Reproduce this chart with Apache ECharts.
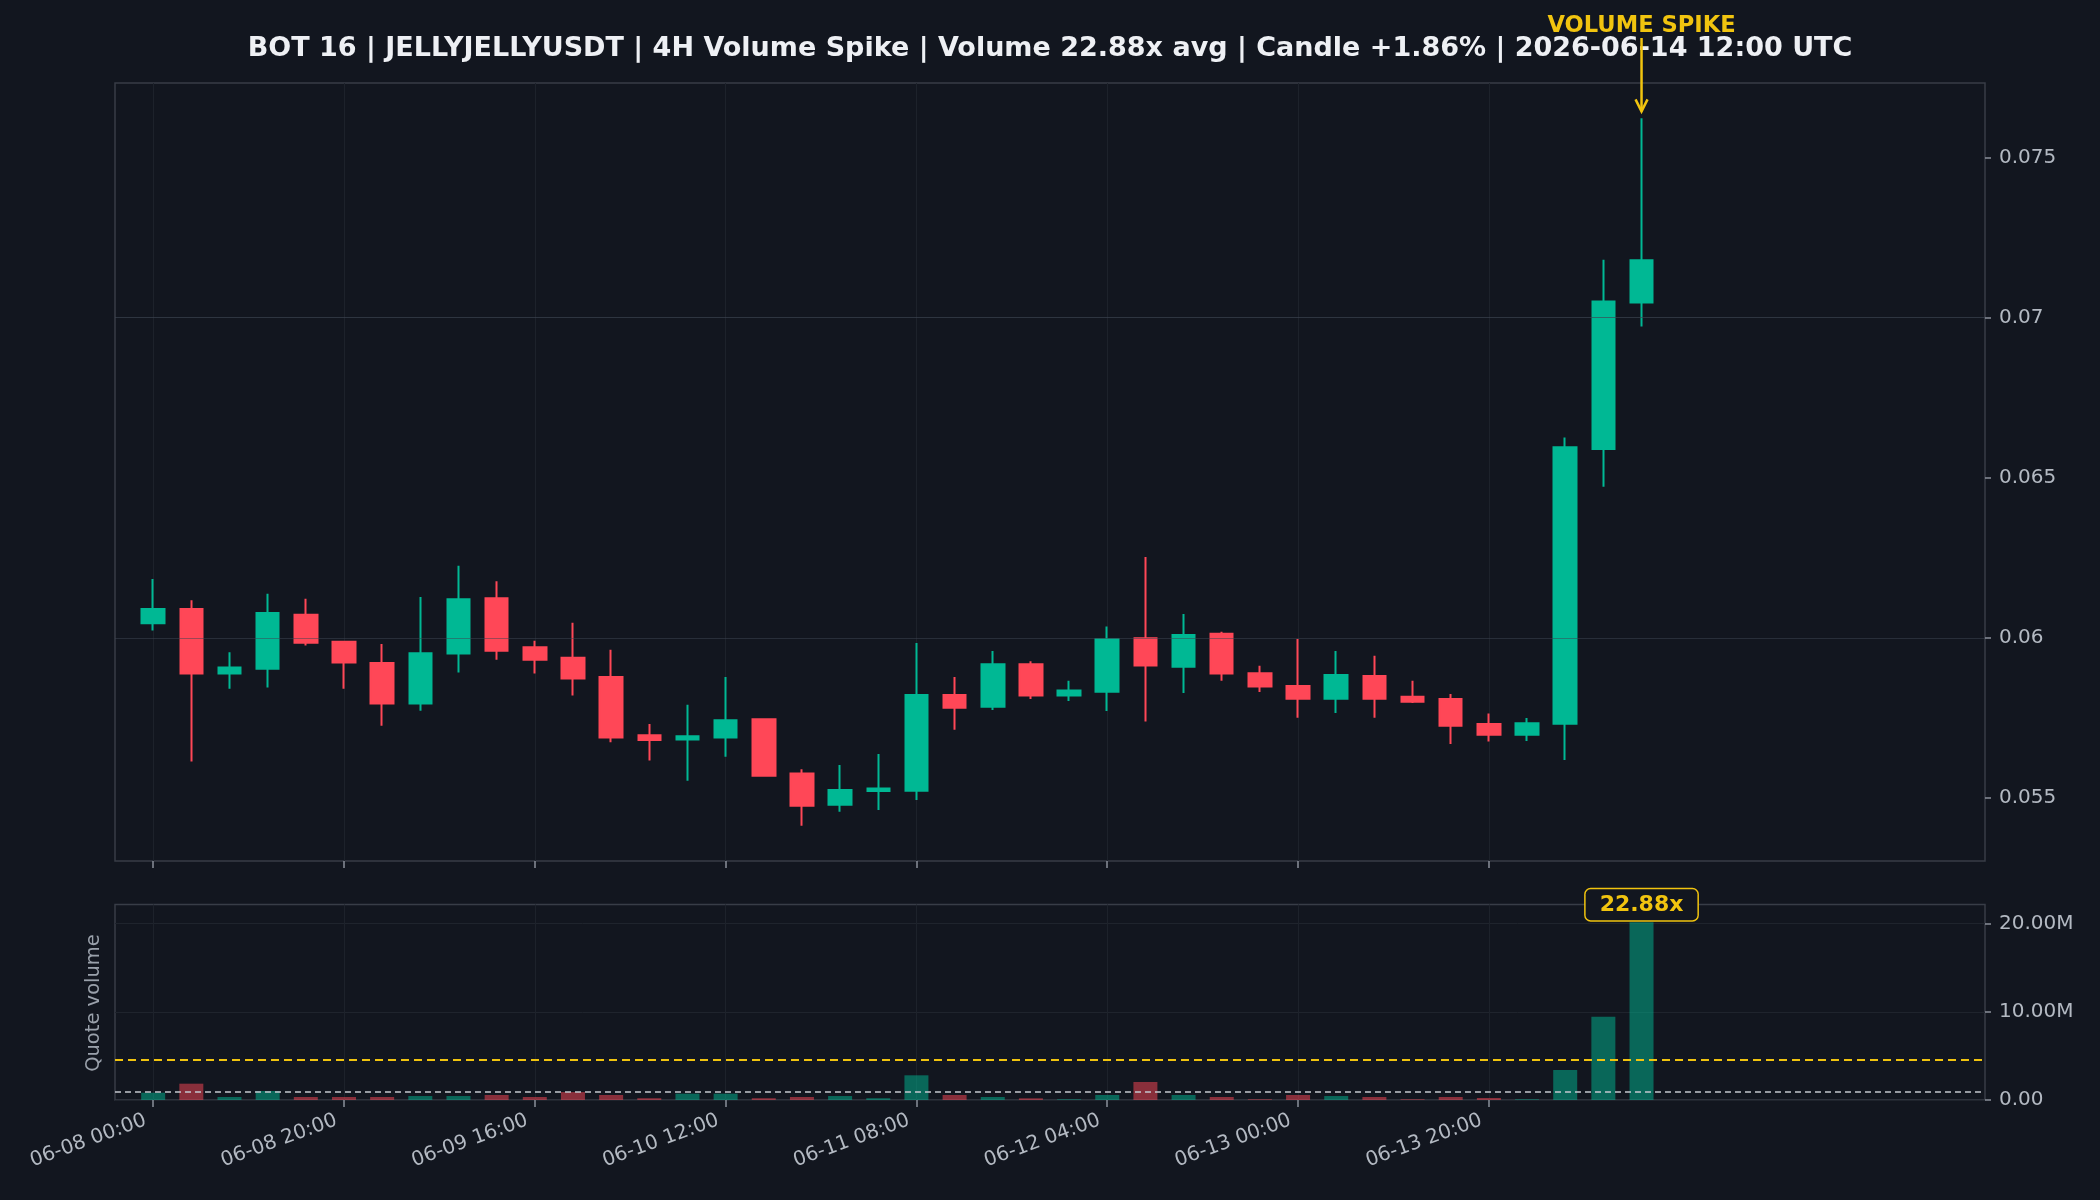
<!DOCTYPE html>
<html><head><meta charset="utf-8">
<script src="https://cdn.jsdelivr.net/npm/echarts@6/dist/echarts.min.js"></script>
<style>html,body{margin:0;padding:0;background:#12161f;}#chart{width:2100px;height:1200px;}</style>
</head><body><div id="chart"></div>
<script>
// ---------------- data ----------------
const titleText = 'BOT 16 | JELLYJELLYUSDT | 4H Volume Spike | Volume 22.88x avg | Candle +1.86% | 2026-06-14 12:00 UTC';
const startTimeUTC = Date.UTC(2026, 5, 8, 0, 0);
const stepHours = 4;
const opens  = [0.06046,0.06090,0.05889,0.05904,0.06072,0.05988,0.05922,0.05795,0.05951,0.06124,
                0.05971,0.05938,0.05878,0.05696,0.05683,0.05689,0.05746,0.05577,0.05479,0.05522,
                0.05523,0.05822,0.05785,0.05918,0.05820,0.05832,0.05999,0.05910,0.06013,0.05890,
                0.05850,0.05810,0.05881,0.05816,0.05809,0.05731,0.05698,0.05732,0.06590,0.07047];
const closes = [0.06090,0.05889,0.05908,0.06078,0.05985,0.05923,0.05795,0.05952,0.06121,0.05960,
                0.05932,0.05873,0.05689,0.05681,0.05693,0.05743,0.05570,0.05476,0.05525,0.05530,
                0.05822,0.05782,0.05918,0.05820,0.05836,0.05996,0.05914,0.06009,0.05889,0.05848,
                0.05810,0.05884,0.05810,0.05801,0.05726,0.05698,0.05734,0.06595,0.07050,0.07179];
const lows   = [0.06023,0.05614,0.05841,0.05845,0.05976,0.05841,0.05726,0.05773,0.05892,0.05932,
                0.05889,0.05820,0.05674,0.05617,0.05554,0.05629,0.05567,0.05414,0.05457,0.05463,
                0.05494,0.05713,0.05775,0.05809,0.05803,0.05772,0.05739,0.05828,0.05866,0.05831,
                0.05751,0.05766,0.05751,0.05797,0.05669,0.05677,0.05678,0.05619,0.06472,0.06972];
const highs  = [0.06184,0.06118,0.05955,0.06138,0.06122,0.05990,0.05981,0.06128,0.06225,0.06177,
                0.05991,0.06047,0.05963,0.05731,0.05791,0.05878,0.05749,0.05590,0.05603,0.05638,
                0.05984,0.05878,0.05959,0.05927,0.05866,0.06036,0.06253,0.06075,0.06019,0.05913,
                0.05997,0.05959,0.05944,0.05866,0.05825,0.05764,0.05750,0.06626,0.07181,0.07622];
const quoteVolumeM = [0.83,1.85,0.34,1.02,0.34,0.34,0.34,0.45,0.45,0.57,
                      0.34,0.90,0.57,0.20,0.72,0.72,0.20,0.34,0.45,0.20,
                      2.80,0.57,0.34,0.19,0.08,0.57,2.04,0.57,0.34,0.08,
                      0.57,0.45,0.34,0.08,0.34,0.23,0.08,3.40,9.43,20.15];
const avgVolumeM = 0.8807;
const thresholdVolumeM = 4.6;
const spikeRatio = 22.88;
const spikeLabel = 'VOLUME SPIKE';
const volumeAxisName = 'Quote volume';
const priceTicks = [0.055, 0.06, 0.065, 0.07, 0.075];
const volumeTicks = [0, 10e6, 20e6];
const tickLabels = ['06-08 00:00','06-08 20:00','06-09 16:00','06-10 12:00','06-11 08:00','06-12 04:00','06-13 00:00','06-13 20:00'];
const padBefore = 1, padAfter = 9;

// ---------------- helpers ----------------
const UP = '#00b894', DOWN = '#ff4757', UP_A = 'rgba(0,184,148,0.5)', DOWN_A = 'rgba(255,71,87,0.5)';
const BG = '#12161f', GOLD = '#f1c40f', TXT = '#b3b9c2', FONT = 'DejaVu Sans';
const p2 = n => String(n).padStart(2, '0');
const fmt = t => { const d = new Date(t); return p2(d.getUTCMonth()+1)+'-'+p2(d.getUTCDate())+' '+p2(d.getUTCHours())+':'+p2(d.getUTCMinutes()); };
const n = opens.length;
const categories = [];
for (let i = -padBefore; i < n + padAfter; i++) categories.push(fmt(startTimeUTC + i*stepHours*3600e3));
const blank4 = ['-','-','-','-'];
const candleData = [];
const volData = [];
for (let i = 0; i < padBefore; i++) { candleData.push(blank4); volData.push('-'); }
for (let i = 0; i < n; i++) {
  candleData.push([opens[i], closes[i], lows[i], highs[i]]);
  const up = closes[i] >= opens[i];
  const item = { value: quoteVolumeM[i]*1e6, itemStyle: { color: up ? UP_A : DOWN_A } };
  if (i === n - 1) {
    item.label = { show: true, position: 'top', distance: 2, formatter: spikeRatio.toFixed(2)+'x',
      color: GOLD, fontWeight: 'bold', fontSize: 22, fontFamily: FONT, backgroundColor: BG,
      borderColor: GOLD, borderWidth: 1.5, borderRadius: 5, padding: [5, 14, 4, 14] };
  }
  volData.push(item);
}
for (let i = 0; i < padAfter; i++) { candleData.push(blank4); volData.push('-'); }

const pMin = Math.min(...lows), pMax = Math.max(...highs), pSpan = pMax - pMin;
const yMin = pMin - 0.05*pSpan, yMax = pMax + 0.05*pSpan;
const vMax = Math.max(...quoteVolumeM)*1e6*1.1;
const isTick = (idx, val) => tickLabels.includes(val);
const gridLine = 'rgba(62,68,82,0.30)';

const xCommon = {
  type: 'category', data: categories, boundaryGap: false,
  axisLine: { show: false },
  axisTick: { show: true, interval: isTick, length: 7, lineStyle: { color: '#8a909a', width: 1.5 } },
  splitLine: { show: true, interval: isTick, lineStyle: { color: '#1d222b', width: 1 } }
};

const chart = echarts.init(document.getElementById('chart'), null, { renderer: 'canvas' });
chart.setOption({
  backgroundColor: BG,
  animation: false,
  title: { text: titleText, left: 'center', top: 28,
    textStyle: { color: '#eef0f4', fontSize: 27, fontWeight: 'bold', fontFamily: FONT, lineHeight: 32 } },
  grid: [
    { left: 115, right: 115, top: 83, height: 778, show: true, borderColor: '#383d47', borderWidth: 1.5, backgroundColor: 'transparent' },
    { left: 115, right: 115, top: 904.5, height: 195.5, show: true, borderColor: '#383d47', borderWidth: 1.5, backgroundColor: 'transparent' }
  ],
  xAxis: [
    Object.assign({}, xCommon, { gridIndex: 0, axisLabel: { show: false } }),
    Object.assign({}, xCommon, { gridIndex: 1, axisLabel: { show: true, interval: isTick, rotate: 20, margin: 17,
      padding: [0, 8, 0, 0], color: TXT, fontSize: 20, fontFamily: FONT } })
  ],
  yAxis: [
    { type: 'value', gridIndex: 0, position: 'right', min: yMin, max: yMax, scale: true,
      axisLine: { show: false }, splitLine: { show: false },
      axisTick: { show: true, length: 6, customValues: priceTicks, lineStyle: { color: '#8a909a', width: 1.5 } },
      axisLabel: { customValues: priceTicks, color: TXT, fontSize: 20, fontFamily: FONT, margin: 14,
        formatter: v => String(parseFloat(v.toFixed(4))) } },
    { type: 'value', gridIndex: 1, position: 'right', min: 0, max: vMax, interval: 10e6,
      axisLine: { show: false },
      splitLine: { show: true, lineStyle: { color: '#1f242d', width: 1 } },
      axisTick: { show: true, length: 6, customValues: volumeTicks, lineStyle: { color: '#8a909a', width: 1.5 } },
      axisLabel: { customValues: volumeTicks, color: TXT, fontSize: 20, fontFamily: FONT, margin: 14,
        formatter: v => v === 0 ? '0.00' : (v/1e6).toFixed(2) + 'M' } }
  ],
  series: [
    { type: 'candlestick', xAxisIndex: 0, yAxisIndex: 0, data: candleData, barWidth: 23,
      itemStyle: { color: UP, color0: DOWN, borderColor: UP, borderColor0: DOWN, borderWidth: 2 },
      markLine: { silent: true, symbol: ['none','none'], animation: false, label: { show: false },
        lineStyle: { color: gridLine, width: 1.2, type: 'solid' },
        data: priceTicks.map(v => ({ yAxis: v })) } },
    { type: 'bar', xAxisIndex: 1, yAxisIndex: 1, data: volData, barWidth: 24,
      markLine: { silent: true, symbol: ['none','none'], animation: false, label: { show: false },
        data: [
          { yAxis: avgVolumeM*1e6, lineStyle: { color: '#c3c7ce', width: 1.5, type: [6, 4] } },
          { yAxis: thresholdVolumeM*1e6, lineStyle: { color: GOLD, width: 2.2, type: [8, 5] } }
        ] } }
  ]
});

// annotation positioned through the chart's own scales
const last = n - 1;
const tip = chart.convertToPixel({ gridIndex: 0 }, [categories[last + padBefore], highs[last]]);
const ax = tip[0], ay = tip[1] - 7;
chart.setOption({
  graphic: [
    { type: 'line', z: 100, shape: { x1: ax, y1: 38, x2: ax, y2: ay }, style: { stroke: GOLD, lineWidth: 2.5 } },
    { type: 'polyline', z: 100, shape: { points: [[ax-6, ay-12], [ax, ay], [ax+6, ay-12]] }, style: { stroke: GOLD, lineWidth: 2.5, fill: null } },
    { type: 'text', z: 100, x: ax, y: 26, style: { text: spikeLabel, fill: GOLD, font: 'bold 22.6px "DejaVu Sans"',
        align: 'center', verticalAlign: 'middle', textAlign: 'center', textVerticalAlign: 'middle' } },
    { type: 'text', z: 100, x: 94, y: 1003, rotation: Math.PI/2, style: { text: volumeAxisName, fill: '#9aa1ab',
        font: '19.5px "DejaVu Sans"', align: 'center', verticalAlign: 'middle', textAlign: 'center', textVerticalAlign: 'middle' } }
  ]
});
</script></body></html>
